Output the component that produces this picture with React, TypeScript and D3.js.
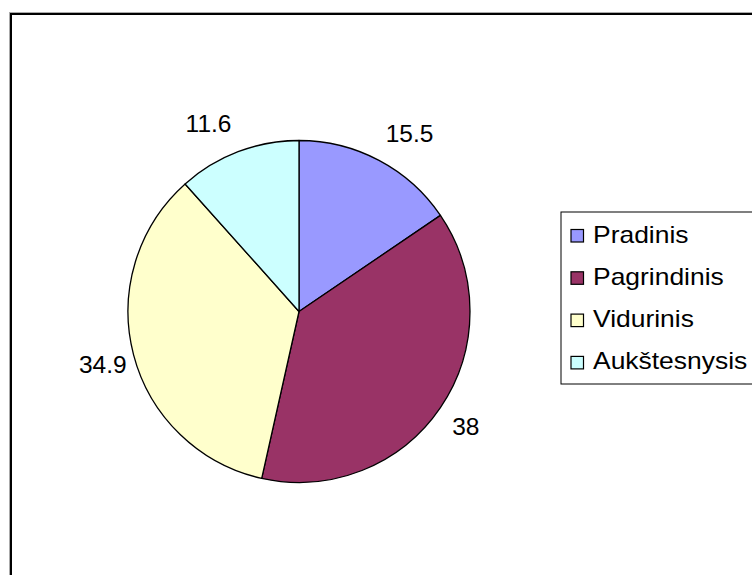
import React from "react";
import * as d3 from "d3";

const categories: string[] = ["Pradinis", "Pagrindinis", "Vidurinis", "Aukštesnysis"];
const values: number[] = [15.5, 38, 34.9, 11.6];
const valueLabels: string[] = ["15.5", "38", "34.9", "11.6"];
const colors: string[] = ["#9999FF", "#993366", "#FFFFCC", "#CCFFFF"];

const W = 752;
const H = 575;
const FONT = "'Liberation Sans', Arial, sans-serif";

function textWidth(s: string, size: number): number {
  let w = 0;
  for (const ch of s) w += ch === "." ? 0.278 : 0.556;
  return w * size;
}

export default function App() {
  const cx = 299;
  const cy = 311.5;
  const r = 171;
  const labelSize = 24.5;
  const gap = 21;
  const digitH = 17.6;

  const pie = d3
    .pie<number>()
    .sort(null)
    .value((d) => d)
    .startAngle(0)
    .endAngle(2 * Math.PI);
  const arcs = pie(values);
  const arc = d3.arc<d3.PieArcDatum<number>>().innerRadius(0).outerRadius(r);

  const legendX = 561;
  const legendY = 212;
  const rowBase = 242.5;
  const rowStep = 42.3;

  return (
    <svg
      width={W}
      height={H}
      style={{ position: "absolute", left: 0, top: 0, background: "#fff" }}
    >
      <rect x={0} y={0} width={W} height={H} fill="#fff" />
      <rect x={9.5} y={12.5} width={W + 20} height={H + 20} fill="none" stroke="#aaa" strokeWidth={1} />
      <rect x={11} y={14} width={W + 20} height={H + 20} fill="none" stroke="#000" strokeWidth={2} />
      <g transform={`translate(${cx},${cy})`}>
        {arcs.map((a, i) => (
          <path key={i} d={arc(a) || ""} fill={colors[i]} stroke="#000" strokeWidth={1.3} strokeLinejoin="round" />
        ))}
      </g>
      {arcs.map((a, i) => {
        const mid = (a.startAngle + a.endAngle) / 2;
        const ux = Math.sin(mid);
        const uy = -Math.cos(mid);
        const ax = cx + (r + gap) * ux;
        const ay = cy + (r + gap) * uy;
        const w = textWidth(valueLabels[i], labelSize);
        const mx = ax + (w / 2) * Math.sign(ux) * (1 - 0.6 * ux * ux);
        const my = ay + (digitH / 2) * Math.sign(uy) * Math.sqrt(Math.abs(uy));
        return (
          <text
            key={i}
            x={mx}
            y={my + digitH / 2}
            textAnchor="middle"
            fontFamily={FONT}
            fontSize={labelSize}
            fill="#000"
          >
            {valueLabels[i]}
          </text>
        );
      })}
      <rect x={legendX} y={legendY} width={W} height={172} fill="#fff" stroke="#000" strokeWidth={1} />
      {categories.map((c, i) => {
        const base = rowBase + i * rowStep;
        return (
          <g key={c}>
            <rect x={571} y={base - 13} width={12.5} height={12.5} fill={colors[i]} stroke="#000" strokeWidth={1.2} />
            <text
              transform={`translate(593,${base}) scale(1.15,1)`}
              fontFamily={FONT}
              fontSize={23}
              fill="#000"
            >
              {c}
            </text>
          </g>
        );
      })}
    </svg>
  );
}
